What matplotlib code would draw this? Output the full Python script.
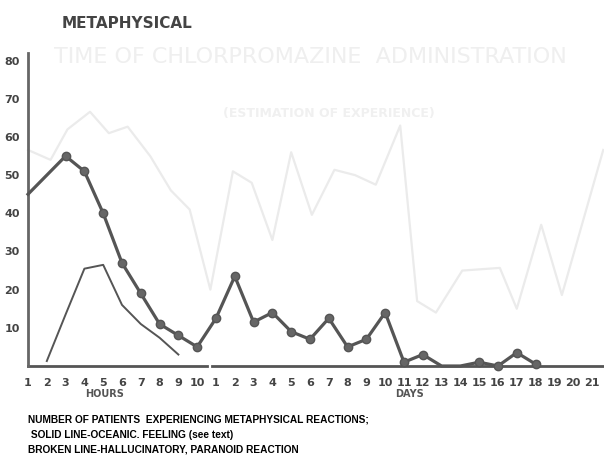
import matplotlib
matplotlib.use("Agg")
import matplotlib.pyplot as plt

# x axis: 10 hourly readings, then 21 days
hour_labels = [str(h) for h in range(1, 11)]
day_labels = [str(d) for d in range(1, 22)]
tick_labels = hour_labels + day_labels

# solid line - oceanic feeling (hour 1 .. day 18)
oceanic = [45, 50, 55, 51, 40, 27, 19, 11, 8, 5,
           12.5, 23.5, 11.5, 14, 9, 7, 12.5, 5, 7, 14,
           1, 3, 0, 0, 1, 0, 3.5, 0.5]
oceanic_no_marker = [0, 1, 22, 23]

# broken line - hallucinatory, paranoid reaction (hour 2 .. hour 9)
halluc_x = [1, 2, 3, 4, 5, 6, 7, 8]
halluc = [1.3, 13.5, 25.5, 26.5, 16, 11, 7.4, 3]

# faint show-through from the reverse page
ghost_x = [0, 1.2, 2.1, 3.3, 4.3, 5.3, 6.5, 7.6, 8.6, 9.7, 10.9, 11.9, 13, 14,
           15.1, 16.3, 17.4, 18.5, 19.8, 20.7, 21.7, 23.1, 25.1, 26, 27.3, 28.4, 30.6]
ghost_y = [56.6, 54, 62, 66.6, 61, 62.7, 55, 46, 41, 20, 51, 48, 33, 56,
           39.6, 51.4, 50, 47.5, 63, 17, 14, 25, 25.7, 15, 37, 18.6, 56.6]

ink = "#555555"
fig = plt.figure(figsize=(6.04, 4.57), dpi=100)
fig.patch.set_facecolor("white")
ax = fig.add_axes([28 / 604, 1 - 366 / 457, 576 / 604, 313 / 457])
ax.set_xlim(0, 30.64)
ax.set_ylim(0, 82)

ax.plot(ghost_x, ghost_y, color="#ebebeb", lw=1.6, zorder=1, clip_on=False)
fig.text(0.09, 0.862, "TIME OF CHLORPROMAZINE  ADMINISTRATION", color="#efefef",
         fontsize=16, fontfamily="DejaVu Sans", zorder=0)
fig.text(0.37, 0.745, "(ESTIMATION OF EXPERIENCE)", color="#f0f0f0",
         fontsize=9, fontweight="bold", zorder=0)

xs = list(range(len(oceanic)))
marks = [i for i in xs if i not in oceanic_no_marker]
ax.plot(xs, oceanic, color=ink, lw=2.3, marker="o", markersize=6,
        markevery=marks, markerfacecolor="#666666", markeredgecolor=ink,
        zorder=3, clip_on=False)
ax.plot(halluc_x, halluc, color=ink, lw=1.4, zorder=3)

for s in ["top", "right", "bottom"]:
    ax.spines[s].set_visible(False)
ax.spines["left"].set_color("#666666")
ax.spines["left"].set_linewidth(2)

# bottom axis drawn in two pieces with a gap between hours and days
ax.axhline(0, 0, 0.311, color="#555555", lw=2, clip_on=False, zorder=2)
ax.axhline(0, 0.319, 1.0, color="#555555", lw=2, clip_on=False, zorder=2)

ax.set_yticks(range(10, 90, 10))
ax.set_yticklabels([str(v) for v in range(10, 90, 10)])
ax.set_xticks(range(len(tick_labels)))
ax.set_xticklabels(tick_labels)
ax.tick_params(axis="both", length=0, labelsize=8, labelcolor="#444444")
ax.tick_params(axis="y", pad=6)
ax.tick_params(axis="x", pad=9)
for lab in ax.get_xticklabels() + ax.get_yticklabels():
    lab.set_fontweight("bold")

fig.text(62 / 604, 1 - 24 / 457, "METAPHYSICAL", fontsize=11, fontweight="bold",
         color="#444444", va="center", ha="left")
fig.text(105 / 604, 1 - 394 / 457, "HOURS", fontsize=7, fontweight="bold",
         color="#555555", va="center", ha="center")
fig.text(410 / 604, 1 - 394 / 457, "DAYS", fontsize=7, fontweight="bold",
         color="#555555", va="center", ha="center")

caption = ["NUMBER OF PATIENTS  EXPERIENCING METAPHYSICAL REACTIONS;",
           " SOLID LINE-OCEANIC. FEELING (see text)",
           "BROKEN LINE-HALLUCINATORY, PARANOID REACTION"]
for i, line in enumerate(caption):
    fig.text(28 / 604, 1 - (420 + 15 * i) / 457, line, fontsize=7.3,
             fontweight="bold", family=["Liberation Sans", "DejaVu Sans"],
             color="black", va="center", ha="left")

fig.savefig("out.png", dpi=100, facecolor="white")
